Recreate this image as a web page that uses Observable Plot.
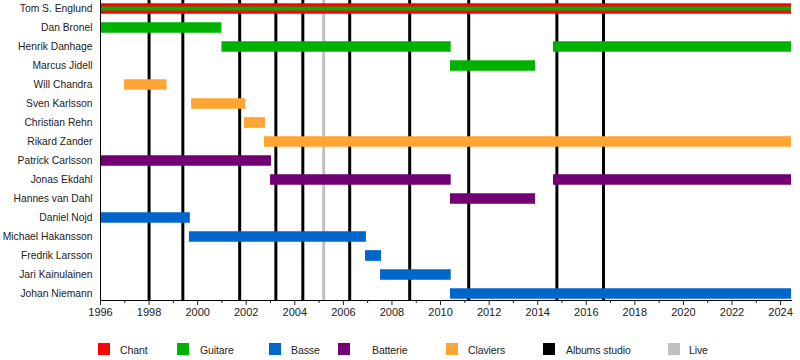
<!DOCTYPE html>
<html>
<head>
<meta charset="utf-8">
<script src="https://cdn.jsdelivr.net/npm/d3@7"></script>
<script src="https://cdn.jsdelivr.net/npm/@observablehq/plot@0.6"></script>
<style>
  body { margin: 0; background: #fff; font-family: "Liberation Sans", Arial, sans-serif; }
  #wrap { position: relative; width: 800px; height: 360px; }
  #legend { position: absolute; left: 0; top: 0; width: 800px; height: 360px; pointer-events: none; }
  .sw { position: absolute; top: 343px; width: 12px; height: 12px; }
  .lt { position: absolute; top: 344px; font-size: 10.5px; line-height: 12px; color: #222; letter-spacing: -0.1px; white-space: nowrap; }
  #chart svg g[aria-label="y-axis tick label"] text { font-size: 10.3px; }
</style>
</head>
<body>
<div id="wrap"><div id="chart"></div><div id="legend"></div></div>
<script>
const members = ["Tom S. Englund","Dan Bronel","Henrik Danhage","Marcus Jidell","Will Chandra","Sven Karlsson","Christian Rehn","Rikard Zander","Patrick Carlsson","Jonas Ekdahl","Hannes van Dahl","Daniel Nojd","Michael Hakansson","Fredrik Larsson","Jari Kainulainen","Johan Niemann"];

const roles = ["Chant","Guitare","Basse","Batterie","Claviers"];
const roleColors = ["#ff0000","#00b200","#0066cc","#720072","#ffa533"];

// main spans
const spanMember = ["Tom S. Englund","Dan Bronel","Henrik Danhage","Henrik Danhage","Marcus Jidell","Will Chandra","Sven Karlsson","Christian Rehn","Rikard Zander","Patrick Carlsson","Jonas Ekdahl","Jonas Ekdahl","Hannes van Dahl","Daniel Nojd","Michael Hakansson","Fredrik Larsson","Jari Kainulainen","Johan Niemann"];
const spanRole   = ["Chant","Guitare","Guitare","Guitare","Guitare","Claviers","Claviers","Claviers","Claviers","Batterie","Batterie","Batterie","Batterie","Basse","Basse","Basse","Basse","Basse"];
const spanStart  = [1996,1996,2001.0,2014.65,2010.41,1996.99,1999.75,2001.93,2002.75,1996,2003.0,2014.65,2010.41,1996,1999.66,2006.91,2007.53,2010.41];
const spanEnd    = [2024.45,2001.0,2010.44,2024.45,2013.91,1998.74,2001.97,2002.79,2024.45,2003.04,2010.44,2024.45,2013.91,1999.7,2006.95,2007.57,2010.44,2024.45];

// secondary instrument (thin inner stripe)
const secondMember = ["Tom S. Englund"];
const secondRole   = ["Guitare"];
const secondStart  = [1996];
const secondEnd    = [2024.45];

const studioAlbums = [1998.0,1999.39,2001.73,2003.22,2004.33,2006.26,2008.73,2011.16,2014.79,2016.71];
const liveAlbums = [2005.19];

const majorTicks = d3.range(1996, 2025, 2);
const minorTicks = d3.range(1997, 2025, 2);

const legendItems = ["Chant","Guitare","Basse","Batterie","Claviers","Albums studio","Live"];
const legendColors = ["#ff0000","#00b200","#0066cc","#720072","#ffa533","#000000","#c0c0c0"];

const spans = spanMember.map((m, i) => ({member: m, role: spanRole[i], start: spanStart[i], end: spanEnd[i]}));
const seconds = secondMember.map((m, i) => ({member: m, role: secondRole[i], start: secondStart[i], end: secondEnd[i]}));

const chart = Plot.plot({
  width: 800,
  height: 322,
  marginTop: 0,
  marginBottom: 22,
  marginLeft: 100,
  marginRight: 9,
  style: {fontFamily: "'Liberation Sans', Arial, sans-serif", fontSize: "11px", color: "#222", background: "#fff"},
  x: {domain: [1996, 2024.45]},
  y: {domain: members, type: "point", padding: 0, insetTop: 6, insetBottom: 5},
  color: {domain: roles, range: roleColors},
  marks: [
    Plot.ruleX(studioAlbums, {x: d => d, stroke: "#000", strokeWidth: 3}),
    Plot.ruleX(liveAlbums, {x: d => d, stroke: "#c0c0c0", strokeWidth: 3}),
    Plot.ruleY(spans, {y: "member", x1: "start", x2: "end", stroke: "role", strokeWidth: 10.7}),
    Plot.ruleY(seconds, {y: "member", x1: "start", x2: "end", stroke: "role", strokeWidth: 4}),
    Plot.frame({anchor: "left", stroke: "#000"}),
    Plot.frame({anchor: "bottom", stroke: "#000"}),
    Plot.axisX({ticks: majorTicks, tickFormat: d => String(d), tickSize: 5, tickPadding: 3, label: null, fill: "#222"}),
    Plot.axisX({ticks: minorTicks, tickFormat: () => "", tickSize: 3, label: null}),
    Plot.axisY({tickSize: 0, tickPadding: 8, label: null, fill: "#222", fontSize: 10.3})
  ]
});
document.getElementById("chart").appendChild(chart);

const swLeft = [98,177,269,338,446,543,668];
const txLeft = [120,200,291,372,468,566,689];
const legend = document.getElementById("legend");
legendItems.forEach((name, i) => {
  const s = document.createElement("div");
  s.className = "sw";
  s.style.left = swLeft[i] + "px";
  s.style.background = legendColors[i];
  legend.appendChild(s);
  const t = document.createElement("div");
  t.className = "lt";
  t.style.left = txLeft[i] + "px";
  t.textContent = name;
  legend.appendChild(t);
});
</script>
</body>
</html>
